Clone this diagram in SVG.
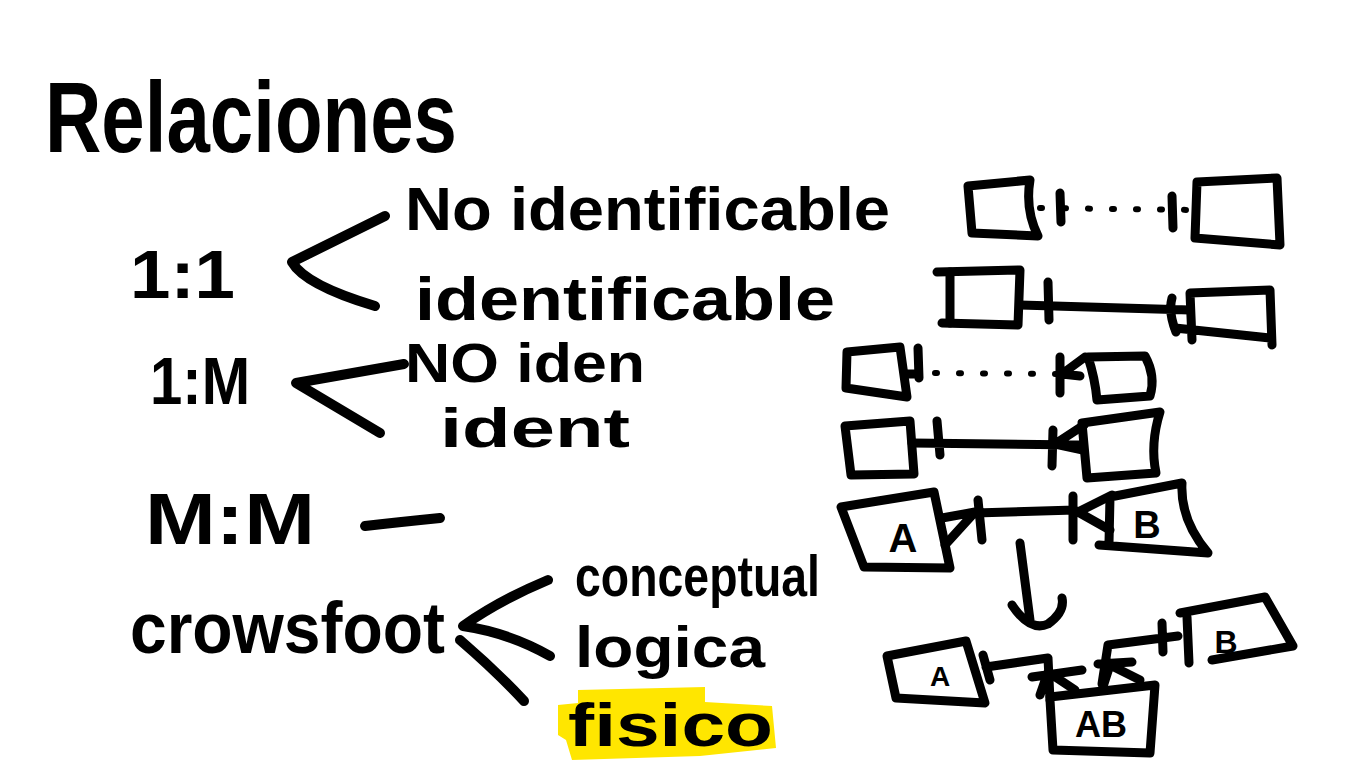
<svg xmlns="http://www.w3.org/2000/svg" width="1366" height="768" viewBox="0 0 1366 768">
<style>
.t{font-family:"Liberation Sans","DejaVu Sans",sans-serif;font-weight:bold;fill:#000}
.s{fill:none;stroke:#000;stroke-width:9;stroke-linecap:round;stroke-linejoin:round}
.d{fill:none;stroke:#000;stroke-width:6;stroke-linecap:round;stroke-dasharray:2 22}
.b{fill:none;stroke:#000;stroke-width:10;stroke-linecap:round;stroke-linejoin:round}
</style>
<rect width="1366" height="768" fill="#fff"/>
<g id="title"><text class="t" x="45" y="152" font-size="100" textLength="412" lengthAdjust="spacingAndGlyphs">Relaciones</text></g>
<g id="one-one"><text class="t" x="130" y="298" font-size="68" textLength="105" lengthAdjust="spacingAndGlyphs">1:1</text></g>
<g id="no-identificable"><text class="t" x="405" y="230" font-size="62" textLength="485" lengthAdjust="spacingAndGlyphs">No identificable</text></g>
<g id="identificable"><text class="t" x="415" y="320" font-size="62" textLength="420" lengthAdjust="spacingAndGlyphs">identificable</text></g>
<g id="one-many"><text class="t" x="150" y="404" font-size="66" textLength="100" lengthAdjust="spacingAndGlyphs">1:M</text></g>
<g id="no-iden"><text class="t" x="405" y="382" font-size="56" textLength="240" lengthAdjust="spacingAndGlyphs">NO iden</text></g>
<g id="ident"><text class="t" x="440" y="447" font-size="56" textLength="190" lengthAdjust="spacingAndGlyphs">ident</text></g>
<g id="many-many"><text class="t" x="145" y="544" font-size="72" textLength="170" lengthAdjust="spacingAndGlyphs">M:M</text></g>
<g id="crowsfoot"><text class="t" x="130" y="653" font-size="72" textLength="315" lengthAdjust="spacingAndGlyphs">crowsfoot</text></g>
<g id="conceptual"><text class="t" x="575" y="596" font-size="58" textLength="245" lengthAdjust="spacingAndGlyphs">conceptual</text></g>
<g id="logica"><text class="t" x="575" y="667" font-size="58" textLength="190" lengthAdjust="spacingAndGlyphs">logica</text></g>
<g id="fisico">
<path d="M578,690 L705,687 L705,702 L772,706 L776,748 L700,756 L572,760 L566,740 L558,735 L558,705 L578,703 Z" fill="#ffe600"/>
<text class="t" x="568" y="746" font-size="62" textLength="205" lengthAdjust="spacingAndGlyphs">fisico</text>
</g>
<g id="box1"><path class="s" d="M968,186 L1030,180 Q1025,210 1038,236 L972,233 Z"/></g>
<g id="box2"><path class="s" d="M1197,182 L1277,178 L1280,245 L1195,238 Z"/></g>
<g id="box3"><path class="s" d="M937,272 L1020,270 L1018,325 L942,323"/><path class="s" d="M950,272 L950,323"/></g>
<g id="box4"><path class="s" d="M1190,293 L1270,290 L1272,345 M1190,293 L1192,340 M1175,328 L1270,338"/></g>
<g id="box5"><path class="s" d="M847,352 L900,347 L907,397 L846,388 Z"/></g>
<g id="box6"><path class="s" d="M1088,357 L1145,356 Q1156,376 1150,396 L1097,400 Q1095,378 1088,357 Z"/></g>
<g id="box7"><path class="s" d="M845,426 L910,421 L914,474 L851,475 Z"/></g>
<g id="box8"><path class="s" d="M1082,423 L1160,412 Q1150,444 1156,473 L1087,478 Z"/></g>
<g id="boxA"><path class="s" d="M841,507 L934,492 L950,568 L864,567 Z"/><text class="t" x="903" y="552" font-size="40" text-anchor="middle">A</text></g>
<g id="boxB"><path class="s" d="M1110,497 L1182,483 Q1180,520 1208,553 L1099,545 M1110,497 L1109,543"/><text class="t" x="1147" y="538" font-size="38" text-anchor="middle">B</text></g>
<g id="boxA2"><path class="s" d="M887,656 L966,641 L985,703 L896,698 Z"/><text class="t" x="940" y="686" font-size="28" text-anchor="middle">A</text></g>
<g id="boxB2"><path class="s" d="M1180,613 L1265,597 L1293,646 L1212,660"/><text class="t" x="1226" y="653" font-size="32" text-anchor="middle">B</text></g>
<g id="boxAB"><path class="s" d="M1050,700 L1053,750 L1150,753 L1155,685 L1050,697"/><text class="t" x="1101" y="737" font-size="36" text-anchor="middle">AB</text></g>
<g id="connectors">
<path class="b" d="M385,216 L292,262 Q305,285 375,306"/>
<path class="b" d="M404,364 L296,383 L380,433"/>
<path class="b" d="M365,526 Q400,522 440,518"/>
<path class="b" d="M548,580 Q500,600 463,626 Q510,633 550,656 M460,640 Q495,670 524,701"/>
<path class="d" d="M1040,208 L1195,210"/>
<path class="s" d="M1060,193 L1061,222 M1172,196 L1173,228"/>
<path class="s" d="M1020,305 L1190,310 M1048,282 L1049,320 M1172,298 Q1168,312 1176,332"/>
<path class="s" d="M907,374 L918,374 M918,348 L919,378"/>
<path class="d" d="M935,373 L1062,374"/>
<path class="s" d="M1060,357 L1060,393 M1085,357 L1062,374 L1080,376"/>
<path class="s" d="M912,443 L1083,445 M937,421 L940,455 M1053,430 L1052,466 M1084,425 L1055,444 L1083,450"/>
<path class="s" d="M942,518 L975,512 L945,545 M975,513 L1075,510 M978,500 L982,540 M1073,496 L1073,540 M1112,495 L1078,512 L1110,530"/>
<path class="s" d="M1020,543 L1030,620 M1012,605 Q1030,632 1048,624 Q1065,612 1062,598"/>
<path class="s" d="M986,667 L1048,658 L1050,700 M983,655 L990,680 M1032,677 L1082,670 M1048,672 L1040,695 M1048,672 L1075,690"/>
<path class="s" d="M1102,684 L1108,645 L1178,636 M1098,664 L1132,662 M1110,665 L1102,690 M1110,665 L1140,680 M1162,623 L1163,652 M1187,617 L1189,663"/>
</g>
</svg>
